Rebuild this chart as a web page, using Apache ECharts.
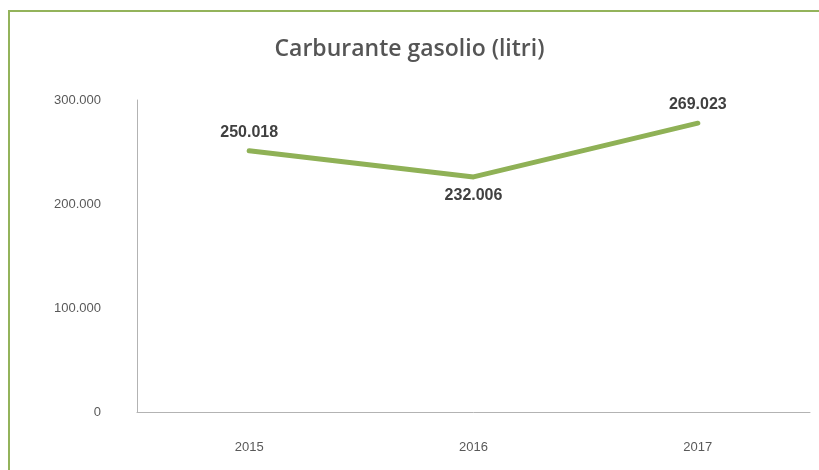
<!DOCTYPE html>
<html>
<head>
<meta charset="utf-8">
<script src="https://cdn.jsdelivr.net/npm/echarts@6/dist/echarts.min.js"></script>
<style>
html,body{margin:0;padding:0;background:#fff;}
#frame{position:absolute;left:8px;top:10px;width:811px;height:460px;border-left:2px solid #93b35b;border-top:2px solid #93b35b;box-sizing:border-box;}
#chart{position:absolute;left:0;top:0;width:819px;height:470px;}
</style>
</head>
<body>
<div id="frame"></div>
<div id="chart"></div>
<script>
const title = 'Carburante gasolio (litri)';
const categories = ['2015', '2016', '2017'];
const values = [250018, 232006, 269023];
const yTicks = [0, 100000, 200000, 300000];
const labelPositions = ['top', 'bottom', 'top'];

function fmt(v) {
  return String(v).replace(/\B(?=(\d{3})+(?!\d))/g, '.');
}

const chart = echarts.init(document.getElementById('chart'));
chart.setOption({
  animation: false,
  title: {
    text: title,
    left: 'center',
    top: 33,
    padding: [5, 5, 5, 23],
    textStyle: { fontFamily: 'Open Sans', fontSize: 23, fontWeight: 600, color: '#555555' }
  },
  grid: { left: 137, right: 9, top: 100, bottom: 58 },
  xAxis: {
    type: 'category',
    data: categories,
    boundaryGap: true,
    axisLine: { lineStyle: { color: '#b3b3b3', width: 1 } },
    axisTick: { show: false },
    axisLabel: { margin: 29, fontFamily: 'Liberation Sans', fontSize: 13, color: '#595959' }
  },
  yAxis: [
    {
      type: 'value',
      min: yTicks[0],
      max: yTicks[yTicks.length - 1],
      interval: yTicks[1] - yTicks[0],
      axisLine: { show: true, lineStyle: { color: '#b3b3b3', width: 1 } },
      axisTick: { show: false },
      splitLine: { show: false },
      axisLabel: {
        margin: 36, fontFamily: 'Liberation Sans', fontSize: 13, color: '#595959',
        formatter: v => fmt(v)
      }
    },
    {
      type: 'value',
      min: 70000,
      max: 285000,
      show: false,
      splitLine: { show: false }
    }
  ],
  series: [{
    type: 'line',
    yAxisIndex: 1,
    data: values.map((v, i) => ({
      value: v,
      label: { show: true, position: labelPositions[i] }
    })),
    symbol: 'circle',
    symbolSize: 1,
    showSymbol: true,
    itemStyle: { color: '#8fb156' },
    lineStyle: { color: '#8fb156', width: 5, cap: 'round', join: 'round' },
    label: {
      show: true,
      distance: 10,
      fontFamily: 'Liberation Sans',
      fontSize: 16,
      fontWeight: 'bold',
      color: '#404040',
      formatter: p => fmt(p.value)
    }
  }]
});
</script>
</body>
</html>
